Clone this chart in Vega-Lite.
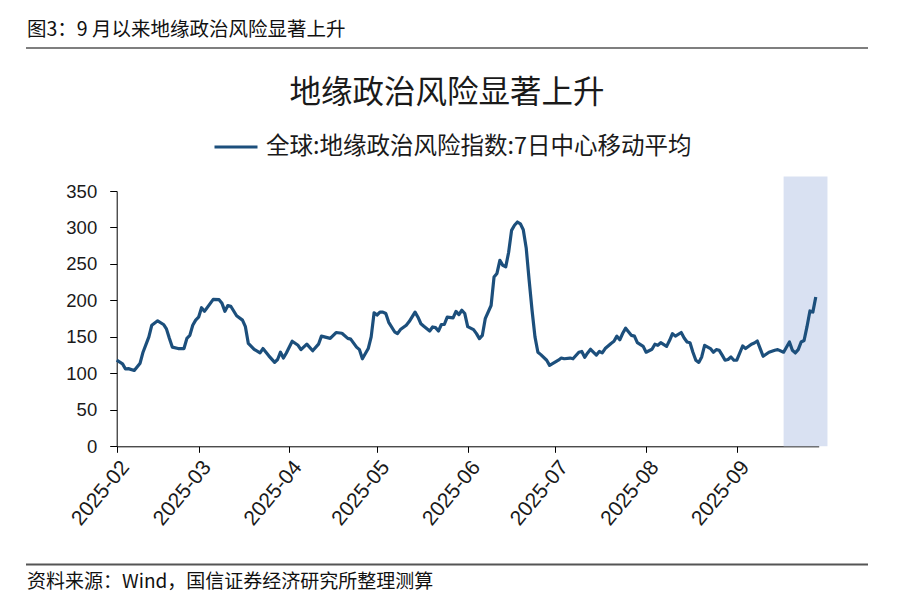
{
  "$schema": "https://vega.github.io/schema/vega-lite/v6.json",
  "background": "white",
  "padding": {"left": 26, "top": 18, "right": 52, "bottom": 14},
  "config": {"view": {"stroke": null}, "font": "Noto Sans CJK SC"},
  "datasets": {
    "risk": [
      {"date":"2025-02-01","value":118},{"date":"2025-02-03","value":113},{"date":"2025-02-04","value":106},{"date":"2025-02-05","value":106.5},{"date":"2025-02-07","value":104},{"date":"2025-02-09","value":114},{"date":"2025-02-10","value":129},{"date":"2025-02-12","value":150},{"date":"2025-02-13","value":166},{"date":"2025-02-15","value":172},{"date":"2025-02-17","value":167},{"date":"2025-02-18","value":161},{"date":"2025-02-19","value":148},{"date":"2025-02-20","value":136},{"date":"2025-02-22","value":134},{"date":"2025-02-24","value":134},{"date":"2025-02-25","value":148},{"date":"2025-02-26","value":152},{"date":"2025-02-27","value":166},{"date":"2025-02-28","value":173},
      {"date":"2025-03-01","value":177},{"date":"2025-03-02","value":190},{"date":"2025-03-03","value":185},{"date":"2025-03-05","value":196},{"date":"2025-03-06","value":201.5},{"date":"2025-03-08","value":201},{"date":"2025-03-09","value":196},{"date":"2025-03-10","value":185},{"date":"2025-03-11","value":193},{"date":"2025-03-12","value":192},{"date":"2025-03-14","value":179},{"date":"2025-03-16","value":173},{"date":"2025-03-17","value":164},{"date":"2025-03-18","value":141},{"date":"2025-03-20","value":133},{"date":"2025-03-22","value":128},{"date":"2025-03-23","value":134},{"date":"2025-03-25","value":124},{"date":"2025-03-27","value":115},{"date":"2025-03-28","value":119},{"date":"2025-03-29","value":129},{"date":"2025-03-30","value":121},{"date":"2025-03-31","value":128},
      {"date":"2025-04-02","value":144},{"date":"2025-04-04","value":138.5},{"date":"2025-04-05","value":132.5},{"date":"2025-04-07","value":140},{"date":"2025-04-09","value":131},{"date":"2025-04-11","value":140},{"date":"2025-04-12","value":151},{"date":"2025-04-15","value":148},{"date":"2025-04-17","value":156},{"date":"2025-04-19","value":155},{"date":"2025-04-21","value":148},{"date":"2025-04-22","value":147},{"date":"2025-04-24","value":136},{"date":"2025-04-25","value":132.5},{"date":"2025-04-26","value":120},{"date":"2025-04-28","value":134},{"date":"2025-04-29","value":150},{"date":"2025-04-30","value":183},
      {"date":"2025-05-01","value":180},{"date":"2025-05-02","value":184},{"date":"2025-05-03","value":184},{"date":"2025-05-04","value":182},{"date":"2025-05-05","value":170},{"date":"2025-05-07","value":157},{"date":"2025-05-08","value":154.5},{"date":"2025-05-09","value":160},{"date":"2025-05-11","value":166},{"date":"2025-05-12","value":171},{"date":"2025-05-14","value":184},{"date":"2025-05-15","value":177},{"date":"2025-05-16","value":168},{"date":"2025-05-17","value":164.5},{"date":"2025-05-19","value":158},{"date":"2025-05-20","value":163.6},{"date":"2025-05-21","value":162.7},{"date":"2025-05-22","value":158},{"date":"2025-05-23","value":167},{"date":"2025-05-24","value":167},{"date":"2025-05-25","value":177},{"date":"2025-05-27","value":176},{"date":"2025-05-28","value":185},{"date":"2025-05-29","value":180.5},{"date":"2025-05-30","value":186.5},{"date":"2025-05-31","value":182},
      {"date":"2025-06-01","value":164},{"date":"2025-06-03","value":160},{"date":"2025-06-04","value":154.5},{"date":"2025-06-05","value":147.6},{"date":"2025-06-06","value":152},{"date":"2025-06-07","value":175},{"date":"2025-06-09","value":193},{"date":"2025-06-10","value":232},{"date":"2025-06-11","value":237},{"date":"2025-06-12","value":255},{"date":"2025-06-13","value":248},{"date":"2025-06-14","value":246},{"date":"2025-06-15","value":266},{"date":"2025-06-16","value":296},{"date":"2025-06-17","value":303},{"date":"2025-06-18","value":307.5},{"date":"2025-06-19","value":305},{"date":"2025-06-20","value":297},{"date":"2025-06-21","value":272},{"date":"2025-06-22","value":228},{"date":"2025-06-23","value":186.5},{"date":"2025-06-24","value":150},{"date":"2025-06-25","value":129},{"date":"2025-06-26","value":125.7},{"date":"2025-06-28","value":118},{"date":"2025-06-29","value":111},
      {"date":"2025-07-02","value":118},{"date":"2025-07-03","value":121},{"date":"2025-07-04","value":120},{"date":"2025-07-06","value":121},{"date":"2025-07-07","value":120},{"date":"2025-07-09","value":129},{"date":"2025-07-10","value":130},{"date":"2025-07-11","value":122},{"date":"2025-07-12","value":128},{"date":"2025-07-13","value":133},{"date":"2025-07-15","value":125},{"date":"2025-07-16","value":130},{"date":"2025-07-17","value":128},{"date":"2025-07-18","value":134},{"date":"2025-07-20","value":141},{"date":"2025-07-21","value":144},{"date":"2025-07-22","value":151},{"date":"2025-07-23","value":146},{"date":"2025-07-24","value":155},{"date":"2025-07-25","value":162},{"date":"2025-07-27","value":152},{"date":"2025-07-28","value":151},{"date":"2025-07-29","value":142},{"date":"2025-07-31","value":137},
      {"date":"2025-08-01","value":129},{"date":"2025-08-03","value":133},{"date":"2025-08-04","value":140},{"date":"2025-08-05","value":138.5},{"date":"2025-08-06","value":142},{"date":"2025-08-08","value":137},{"date":"2025-08-09","value":145},{"date":"2025-08-10","value":154.5},{"date":"2025-08-11","value":151},{"date":"2025-08-13","value":156},{"date":"2025-08-14","value":148.5},{"date":"2025-08-15","value":143},{"date":"2025-08-16","value":142},{"date":"2025-08-17","value":129},{"date":"2025-08-18","value":118},{"date":"2025-08-19","value":115},{"date":"2025-08-20","value":122.5},{"date":"2025-08-21","value":138.5},{"date":"2025-08-23","value":134},{"date":"2025-08-24","value":129},{"date":"2025-08-25","value":132.5},{"date":"2025-08-26","value":131.6},{"date":"2025-08-27","value":125},{"date":"2025-08-28","value":118},{"date":"2025-08-29","value":119},{"date":"2025-08-30","value":122.5},{"date":"2025-08-31","value":118},
      {"date":"2025-09-01","value":118},{"date":"2025-09-03","value":137.5},{"date":"2025-09-04","value":134},{"date":"2025-09-06","value":140},{"date":"2025-09-07","value":141.6},{"date":"2025-09-08","value":144.4},{"date":"2025-09-09","value":134},{"date":"2025-09-10","value":123.4},{"date":"2025-09-12","value":129},{"date":"2025-09-14","value":131.6},{"date":"2025-09-15","value":132.5},{"date":"2025-09-17","value":129},{"date":"2025-09-19","value":143},{"date":"2025-09-20","value":131.6},{"date":"2025-09-21","value":128},{"date":"2025-09-22","value":132.5},{"date":"2025-09-23","value":143},{"date":"2025-09-24","value":145},{"date":"2025-09-25","value":164},{"date":"2025-09-26","value":185.5},{"date":"2025-09-27","value":184},{"date":"2025-09-28","value":204.7}
    ],
    "shade": [{"start":"2025-09-17","end":"2025-10-02","lo":0,"hi":370}]
  },
  "spacing": 25,
  "resolve": {"legend": {"color": "independent"}},
  "vconcat": [
    {
      "width": 840,
      "height": 0.01,
      "view": {"stroke": "#7f7f7f", "strokeWidth": 2},
      "title": {"text": "图3：9 月以来地缘政治风险显著上升", "anchor": "start", "frame": "group", "fontSize": 19.5, "fontWeight": "normal", "color": "#111111", "offset": 5},
      "data": {"values": [{}]},
      "mark": {"type": "point", "opacity": 0},
      "encoding": {}
    },
    {
      "spacing": 31.5,
      "resolve": {"legend": {"color": "independent"}},
      "vconcat": [
        {
          "width": 840,
          "height": 255.3,
          "title": {"text": "地缘政治风险显著上升", "anchor": "middle", "frame": "group", "fontSize": 31.5, "fontWeight": "normal", "color": "#1a1a1a", "offset": 15},
          "layer": [
            {
              "data": {"name": "shade"},
              "mark": {"type": "rect", "color": "#d9e1f2"},
              "encoding": {
                "x": {"field": "start", "type": "temporal"},
                "x2": {"field": "end"},
                "y": {"field": "lo", "type": "quantitative"},
                "y2": {"field": "hi"}
              }
            },
            {
              "data": {"name": "risk"},
              "transform": [{"calculate": "'全球:地缘政治风险指数:7日中心移动平均'", "as": "series"}],
              "mark": {"type": "line", "strokeWidth": 3.2, "strokeJoin": "round"},
              "encoding": {
                "x": {"field": "date", "type": "temporal"},
                "y": {"field": "value", "type": "quantitative"},
                "color": {
                  "field": "series", "type": "nominal",
                  "scale": {"range": ["#1c4f7c"]},
                  "legend": {"orient": "none", "legendX": 186, "legendY": -67, "direction": "horizontal", "title": null, "symbolType": "stroke", "symbolSize": 1849, "symbolStrokeWidth": 3, "labelFontSize": 23.5, "labelFont": "Noto Sans CJK SC", "labelColor": "#1a1a1a", "labelLimit": 0, "labelOffset": 7}
                }
              }
            }
          ],
          "encoding": {
            "x": {
              "type": "temporal",
              "scale": {"type": "utc", "domain": [{"year": 2025, "month": 2, "date": 1, "utc": true}, {"year": 2025, "month": 9, "date": 29, "utc": true}], "range": [89.7, 791.7]},
              "axis": {"title": null, "format": "%Y-%m", "tickCount": {"interval": "month", "step": 1}, "labelAngle": -50, "labelAlign": "right", "labelBaseline": "top", "labelFont": "Liberation Sans", "labelFontSize": 21, "labelColor": "#1a1a1a", "labelPadding": 4, "domainColor": "#000000", "tickColor": "#000000", "tickSize": 6, "grid": false}
            },
            "y": {
              "type": "quantitative",
              "scale": {"domain": [0, 350], "nice": false, "zero": true},
              "axis": {"title": null, "values": [0, 50, 100, 150, 200, 250, 300, 350], "offset": -89.7, "labelFont": "Liberation Sans", "labelFontSize": 18.5, "labelColor": "#1a1a1a", "labelPadding": 13, "domainColor": "#000000", "tickColor": "#000000", "tickSize": 7, "grid": false}
            }
          }
        },
        {
          "width": 840,
          "height": 0.01,
          "view": {"stroke": "#555555", "strokeWidth": 2},
          "title": {"text": "资料来源：Wind，国信证券经济研究所整理测算", "orient": "bottom", "anchor": "start", "frame": "group", "fontSize": 19, "fontWeight": "normal", "color": "#111111", "offset": 6},
          "data": {"values": [{}]},
          "mark": {"type": "point", "opacity": 0},
          "encoding": {}
        }
      ]
    }
  ]
}
